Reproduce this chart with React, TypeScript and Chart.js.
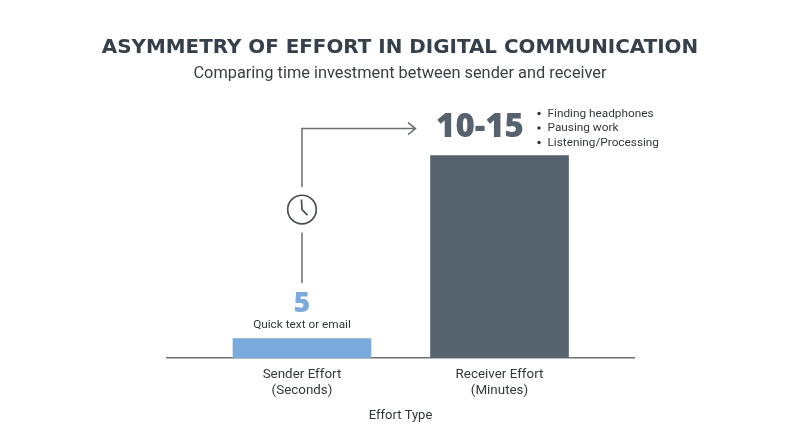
import React, { useEffect, useRef } from "react";
import { Chart, registerables } from "chart.js";

Chart.register(...registerables);

const categories: string[][] = [["Sender Effort", "(Seconds)"], ["Receiver Effort", "(Minutes)"]];
const positions = [0, 1];
// Bar heights as drawn in the picture (there is no value axis).
const barValues = [5, 52];
const barColors = ["#7babdc", "#56626e"];
const valueLabels = ["5", "10-15"];
const senderNote = "Quick text or email";
const receiverNotes = ["Finding headphones", "Pausing work", "Listening/Processing"];
const titleText = "ASYMMETRY OF EFFORT IN DIGITAL COMMUNICATION";
const subtitleText = "Comparing time investment between sender and receiver";
const xTitle = "Effort Type";

const annotations = {
  id: "annotations",
  afterDatasetsDraw(chart: any) {
    const { ctx, scales } = chart;
    const x0 = scales.x.getPixelForValue(positions[0]);
    const x1 = scales.x.getPixelForValue(positions[1]);
    const top0 = scales.y.getPixelForValue(barValues[0]);
    const top1 = scales.y.getPixelForValue(barValues[1]);
    ctx.save();
    ctx.textBaseline = "middle";

    // sender labels
    ctx.textAlign = "center";
    ctx.fillStyle = barColors[0];
    ctx.font = "800 28px 'Open Sans'";
    ctx.fillText(valueLabels[0], x0, top0 - 35);
    ctx.fillStyle = "#33383d";
    ctx.font = "11.8px Roboto";
    ctx.fillText(senderNote, x0, top0 - 13.5);

    // receiver labels
    ctx.fillStyle = barColors[1];
    ctx.font = "800 33px 'Open Sans'";
    ctx.fillText(valueLabels[1], x1 - 19.5, top1 - 28);
    ctx.textAlign = "left";
    ctx.font = "11.8px Roboto";
    ctx.fillStyle = "#33383d";
    receiverNotes.forEach((t, i) => {
      const y = top1 - 41.5 + i * 14.5;
      ctx.fillText(t, x1 + 48, y);
      ctx.beginPath();
      ctx.arc(x1 + 39.5, y - 0.5, 1.7, 0, Math.PI * 2);
      ctx.fill();
    });

    // connector
    const cy = top1 + 54;
    ctx.strokeStyle = "#6b6f73";
    ctx.lineWidth = 1.5;
    ctx.beginPath();
    ctx.moveTo(x0, top0 - 55.5);
    ctx.lineTo(x0, cy + 23);
    ctx.moveTo(x0, cy - 22.5);
    ctx.lineTo(x0, top1 - 27);
    ctx.lineTo(x0 + 113.5, top1 - 27);
    ctx.moveTo(x0 + 106, top1 - 33);
    ctx.lineTo(x0 + 113.5, top1 - 27);
    ctx.lineTo(x0 + 106, top1 - 21);
    ctx.stroke();

    // clock
    ctx.strokeStyle = "#4a4f55";
    ctx.lineWidth = 1.7;
    ctx.beginPath();
    ctx.arc(x0, cy, 14.3, 0, Math.PI * 2);
    ctx.moveTo(x0 - 0.5, cy - 10);
    ctx.lineTo(x0, cy);
    ctx.lineTo(x0 + 5.5, cy + 5.5);
    ctx.stroke();
    ctx.restore();
  },
};

const hiddenSideAxis = {
  grid: { display: false, drawTicks: false },
  border: { display: false },
  ticks: { display: false },
};

export default function App() {
  const ref = useRef<HTMLCanvasElement>(null);
  useEffect(() => {
    const chart = new Chart(ref.current as HTMLCanvasElement, {
      type: "bar",
      data: {
        datasets: [
          {
            data: positions.map((x, i) => ({ x, y: barValues[i] })),
            backgroundColor: barColors,
            barThickness: 138,
          },
        ],
      },
      plugins: [annotations],
      options: {
        responsive: false,
        animation: false,
        layout: { padding: { left: 0, right: 0, top: 0, bottom: 23 } },
        plugins: {
          legend: { display: false },
          tooltip: { enabled: false },
          title: {
            display: true,
            text: titleText,
            color: "#36404a",
            font: { family: "'DejaVu Sans'", size: 19.9, weight: "bold" },
            padding: { top: 36, bottom: 0 },
          },
          subtitle: {
            display: true,
            text: subtitleText,
            color: "#3a3f45",
            font: { family: "Roboto", size: 16.35, weight: "normal" },
            padding: { top: 4, bottom: 30 },
          },
        },
        scales: {
          x: {
            type: "linear",
            offset: false,
            min: -0.6835,
            max: 1.681,
            afterBuildTicks: (s: any) => {
              s.ticks = positions.map((value) => ({ value }));
            },
            afterFit: (s: any) => {
              s.height = 66;
            },
            grid: { display: false, drawTicks: false, offset: false },
            border: { display: true, color: "#6e7275", width: 1.5 },
            ticks: {
              autoSkip: false,
              maxRotation: 0,
              padding: 9,
              color: "#33383d",
              font: { family: "Roboto", size: 13.4 },
              callback: (v: any) => categories[Number(v)],
            },
            title: {
              display: true,
              text: xTitle,
              color: "#33383d",
              font: { family: "Roboto", size: 13 },
              padding: 0,
            },
          },
          y: {
            ...hiddenSideAxis,
            min: 0,
            max: 62.8,
            afterFit: (s: any) => {
              s.width = 167;
            },
          },
          right: {
            ...hiddenSideAxis,
            position: "right",
            afterFit: (s: any) => {
              s.width = 166;
            },
          },
        },
      },
    } as any);
    return () => chart.destroy();
  }, []);
  return (
    <div style={{ position: "absolute", left: 0, top: 0, width: 800, height: 447, background: "#fff" }}>
      <canvas ref={ref} width={800} height={447} style={{ display: "block" }} />
    </div>
  );
}
